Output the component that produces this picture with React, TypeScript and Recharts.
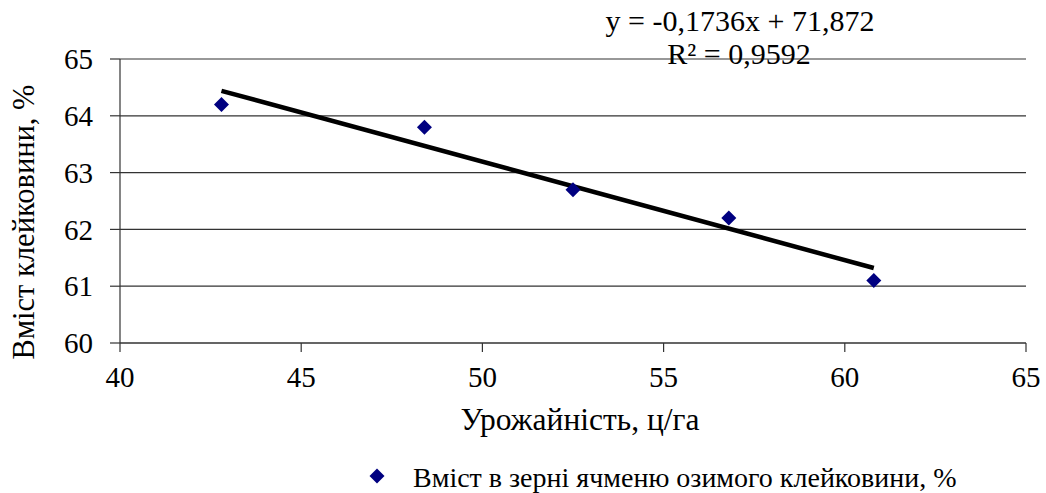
import React from 'react';
import {
  ComposedChart, Scatter, XAxis, YAxis, CartesianGrid, Label,
} from 'recharts';

const yieldValues = [42.8, 48.4, 52.5, 56.8, 60.8];
const glutenValues = [64.2, 63.8, 62.7, 62.2, 61.1];
const trendX = [42.8, 60.8];
const trendY = [64.44, 61.32];
const xTicks = [40, 45, 50, 55, 60, 65];
const yTicks = [60, 61, 62, 63, 64, 65];

const seriesName = 'Вміст в зерні ячменю озимого клейковини, %';
const xTitle = 'Урожайність, ц/га';
const yTitle = 'Вміст клейковини, %';
const equation = 'y = -0,1736x + 71,872';
const rSquared = 'R² = 0,9592';

const FONT = "'Liberation Serif', 'Times New Roman', serif";
const MARKER = '#000080';
const AXIS = '#333';

const points = yieldValues.map((x, i) => ({ x, y: glutenValues[i] }));
const trend = trendX.map((x, i) => ({ x, y: trendY[i] }));

const Diamond = (props: any) => {
  const { cx, cy } = props;
  const r = 7.5;
  return (
    <polygon
      points={`${cx},${cy - r} ${cx + r},${cy} ${cx},${cy + r} ${cx - r},${cy}`}
      fill={MARKER}
    />
  );
};

const XTitle = () => (
  <text x={580} y={430} textAnchor="middle" fill="#000" fontSize={31.5} fontFamily={FONT}>{xTitle}</text>
);

const YTitle = () => (
  <text x={0} y={0} transform="translate(34,222) rotate(-90)" textAnchor="middle" fill="#000" fontSize={30.5} fontFamily={FONT}>{yTitle}</text>
);

export default function App() {
  return (
    <div style={{ position: 'absolute', left: 0, top: 0, width: 1046, height: 493, background: '#fff' }}>
      <ComposedChart
        width={1046}
        height={493}
        margin={{ top: 59, right: 20, left: 0, bottom: 0 }}
      >
        <CartesianGrid vertical={false} stroke={AXIS} strokeWidth={1.2} />
        <XAxis
          type="number"
          dataKey="x"
          domain={[40, 65]}
          ticks={xTicks}
          height={150}
          axisLine={{ stroke: AXIS, strokeWidth: 1.2 }}
          tickLine={{ stroke: AXIS, strokeWidth: 1.2 }}
          tickSize={9}
          tick={{ fill: '#000', fontSize: 29, fontFamily: FONT, dy: 12 }}
        >
          <Label content={<XTitle />} />
        </XAxis>
        <YAxis
          type="number"
          dataKey="y"
          domain={[60, 65]}
          ticks={yTicks}
          width={120}
          axisLine={{ stroke: AXIS, strokeWidth: 1.2 }}
          tickLine={{ stroke: AXIS, strokeWidth: 1.2 }}
          tickSize={10}
          tick={{ fill: '#000', fontSize: 29, fontFamily: FONT, dx: -15 }}
        >
          <Label content={<YTitle />} />
        </YAxis>
        <Scatter
          data={trend}
          line={{ stroke: '#000', strokeWidth: 4.5 }}
          shape={() => null}
          legendType="none"
          isAnimationActive={false}
        />
        <Scatter
          name={seriesName}
          data={points}
          shape={<Diamond />}
          isAnimationActive={false}
        />
      </ComposedChart>
      <svg width={1046} height={493} style={{ position: 'absolute', left: 0, top: 0, pointerEvents: 'none' }}>
        <text x={740} y={31} textAnchor="middle" fill="#000" fontSize={30} fontFamily={FONT}>{equation}</text>
        <text x={739} y={64} textAnchor="middle" fill="#000" fontSize={30} fontFamily={FONT}>{rSquared}</text>
        <polygon points="377,468.5 384.5,476 377,483.5 369.5,476" fill={MARKER} />
        <text x={413} y={487} fill="#000" fontSize={28} fontFamily={FONT}>{seriesName}</text>
      </svg>
    </div>
  );
}
